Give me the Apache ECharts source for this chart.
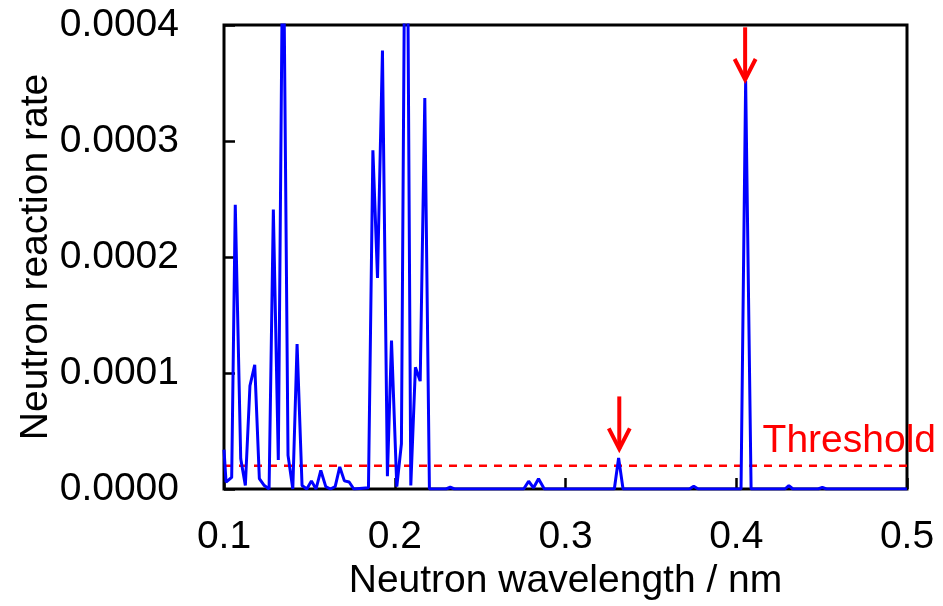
<!DOCTYPE html>
<html>
<head>
<meta charset="utf-8">
<script src="https://cdn.jsdelivr.net/npm/echarts@6/dist/echarts.min.js"></script>
<style>
    html, body { margin: 0; padding: 0; background: #fff; }
    #chart { width: 943px; height: 606px; }
</style>
</head>
<body>
<div id="chart"></div>
<script>
// 波长 (nm)
const wavelength = [
    0.1000, 0.1012, 0.1045, 0.1066, 0.1098, 0.1125, 0.1152, 0.1180, 0.1207, 0.1236,
    0.1264, 0.1289, 0.1318, 0.1346, 0.1375, 0.1403, 0.1428, 0.1457, 0.1485, 0.1512,
    0.1539, 0.1567, 0.1596, 0.1623, 0.1651, 0.1678, 0.1705, 0.1733, 0.1760, 0.1846,
    0.1872, 0.1899, 0.1928, 0.1957, 0.1981, 0.2012, 0.2039, 0.2067, 0.2094, 0.2121,
    0.2149, 0.2176, 0.2203, 0.2300, 0.2325, 0.2350, 0.2755, 0.2784, 0.2813, 0.2842,
    0.2876, 0.3286, 0.3311, 0.3337, 0.3725, 0.3751, 0.3777, 0.4028, 0.4055, 0.4087,
    0.4285, 0.4308, 0.4332, 0.4480, 0.4504, 0.4528, 0.5000
];

// 中子反应率
const reactionRate = [
    0.000034, 0.000006, 0.000010, 0.000245, 0.000026, 0.000003, 0.000089, 0.000107, 0.000009, 0.000003,
    0, 0.000241, 0.000025, 0.00052, 0.000029, 0, 0.000125, 0.000003, 0, 0.000007,
    0, 0.000016, 0.000002, 0, 0.000002, 0.000019, 0.000007, 0.000006, 0, 0.000001,
    0.000292, 0.000182, 0.000378, 0.000011, 0.000128, 0.000002, 0.000039, 0.00067, 0.000003, 0.000105,
    0.000093, 0.000337, 0, 0, 0.0000015, 0, 0, 0.0000067, 0.000001, 0.0000088,
    0, 0, 0.0000268, 0, 0, 0.0000024, 0, 0, 0.000352, 0,
    0, 0.000003, 0, 0, 0.0000015, 0, 0
];

// 阈值
const threshold = 0.00002;

// 箭头 (x, 箭头尖端, 箭尾)
const arrowX = [0.3315, 0.4052];
const arrowTip = [0.0000346, 0.000353];
const arrowTail = [0.0000798, 0.000398];

const xTicks = { min: 0.1, max: 0.5, interval: 0.1 };
const yTicks = { min: 0, max: 0.0004, interval: 0.0001 };

const FONT = 'Liberation Sans, Arial, sans-serif';

const lineData = wavelength.map((w, i) => [w, reactionRate[i]]);
const thresholdData = [[xTicks.min, threshold], [xTicks.max, threshold]];
const arrowData = arrowX.map((x, i) => [x, arrowTip[i], arrowTail[i]]);

const chart = echarts.init(document.getElementById('chart'));

const option = {
    animation: false,
    backgroundColor: '#fff',
    grid: {
        left: 224,
        right: 36,
        top: 25,
        bottom: 116,
        show: true,
        borderColor: '#000',
        borderWidth: 3,
        backgroundColor: 'transparent'
    },
    xAxis: {
        type: 'value',
        min: xTicks.min,
        max: xTicks.max,
        interval: xTicks.interval,
        name: 'Neutron wavelength / nm',
        nameLocation: 'middle',
        nameGap: 73,
        nameTextStyle: { fontFamily: FONT, fontSize: 39, color: '#000' },
        axisLine: { show: false },
        axisTick: { show: true, inside: true, length: 11, lineStyle: { color: '#000', width: 2.5 } },
        axisLabel: {
            margin: 29,
            fontFamily: FONT, fontSize: 39, color: '#000',
            formatter: v => v.toFixed(1)
        },
        splitLine: { show: false }
    },
    yAxis: {
        type: 'value',
        min: yTicks.min,
        max: yTicks.max,
        interval: yTicks.interval,
        name: 'Neutron reaction rate',
        nameLocation: 'middle',
        nameGap: 168,
        nameMoveOverlap: false,
        nameTextStyle: { fontFamily: FONT, fontSize: 39, color: '#000' },
        axisLine: { show: false },
        axisTick: { show: true, inside: true, length: 11, lineStyle: { color: '#000', width: 2.5 } },
        axisLabel: {
            margin: 45,
            fontFamily: FONT, fontSize: 39, color: '#000',
            formatter: v => v.toFixed(4)
        },
        splitLine: { show: false }
    },
    series: [
        {
            // 阈值虚线
            type: 'line',
            data: thresholdData,
            showSymbol: false,
            silent: true,
            lineStyle: { color: '#ff0000', width: 2.5, type: [8, 7] },
            z: 2
        },
        {
            type: 'line',
            data: lineData,
            showSymbol: false,
            clip: true,
            lineStyle: { color: '#0000ff', width: 3 },
            z: 3
        },
        {
            // 红色箭头
            type: 'custom',
            data: arrowData,
            encode: { x: 0, y: 1 },
            z: 4,
            renderItem: function (params, api) {
                const tip = api.coord([api.value(0), api.value(1)]);
                const tail = api.coord([api.value(0), api.value(2)]);
                const style = { stroke: '#ff0000', lineWidth: 4, fill: null };
                return {
                    type: 'group',
                    children: [
                        { type: 'polyline', shape: { points: [tail, tip] }, style: style },
                        {
                            type: 'polyline',
                            shape: { points: [[tip[0] - 10.5, tip[1] - 20.5], tip, [tip[0] + 10.5, tip[1] - 20.5]] },
                            style: style
                        }
                    ]
                };
            }
        },
        {
            // 阈值文字
            type: 'custom',
            data: [[xTicks.max, threshold]],
            encode: { x: 0, y: 1 },
            z: 4,
            renderItem: function (params, api) {
                const p = api.coord([api.value(0), api.value(1)]);
                return {
                    type: 'text',
                    x: p[0] + 29,
                    y: p[1] - 5,
                    style: {
                        text: 'Threshold',
                        fill: '#ff0000',
                        font: '39px ' + FONT,
                        textAlign: 'right',
                        textVerticalAlign: 'bottom'
                    }
                };
            }
        }
    ]
};

chart.setOption(option);
</script>
</body>
</html>
